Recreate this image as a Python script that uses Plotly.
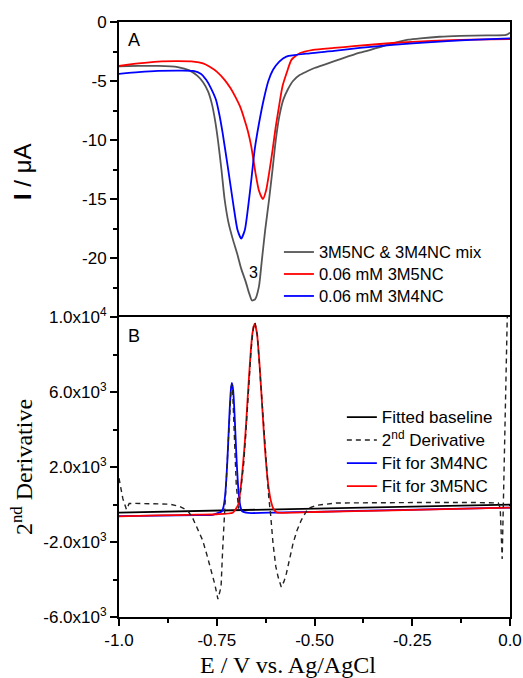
import plotly.graph_objects as go

# ---------------- Panel A data (I / uA vs E / V) ----------------
mix_x = [-1.0, -0.95, -0.90, -0.85, -0.82, -0.80, -0.785, -0.772, -0.762, -0.754, -0.747, -0.738,
         -0.730, -0.720, -0.709, -0.698, -0.6875, -0.676, -0.667, -0.660, -0.652, -0.642, -0.635,
         -0.626, -0.616, -0.607, -0.599, -0.590, -0.580, -0.568, -0.555, -0.538, -0.52, -0.50,
         -0.469, -0.43, -0.384, -0.34, -0.298, -0.26, -0.229, -0.18, -0.127, -0.06, -0.01, 0.0]
mix_y = [-3.75, -3.72, -3.72, -3.82, -4.1, -4.55, -5.1, -5.9, -7.0, -8.4, -10.0, -12.5,
         -15.0, -17.0, -18.4, -19.6, -20.9, -22.0, -23.0, -23.6, -23.5, -22.4, -20.3,
         -17.6, -15.0, -12.4, -10.0, -8.0, -6.6, -5.7, -5.0, -4.5, -4.2, -3.9,
         -3.55, -3.1, -2.6, -2.2, -1.8, -1.5, -1.38, -1.25, -1.18, -1.13, -1.1, -0.9]

m5_x = [-1.0, -0.95, -0.90, -0.85, -0.81, -0.785, -0.769, -0.75, -0.730, -0.715, -0.703, -0.69,
        -0.679, -0.670, -0.662, -0.651, -0.642, -0.632, -0.624, -0.616, -0.607, -0.599, -0.590,
        -0.582, -0.570, -0.559, -0.538, -0.5035, -0.45, -0.40, -0.30, -0.20, -0.10, 0.0]
m5_y = [-3.72, -3.5, -3.35, -3.32, -3.35, -3.5, -3.77, -4.2, -4.9, -5.6, -6.31, -7.2,
        -8.28, -9.3, -10.5, -12.78, -14.3, -15.0, -14.3, -12.78, -10.8, -8.84, -7.0,
        -5.46, -4.2, -3.21, -2.65, -2.36, -2.2, -2.05, -1.78, -1.6, -1.5, -1.45]

m4_x = [-1.0, -0.95, -0.90, -0.85, -0.81, -0.79, -0.777, -0.765, -0.752, -0.743, -0.735, -0.722,
        -0.707, -0.697, -0.6875, -0.678, -0.6695, -0.661, -0.653, -0.642, -0.630, -0.618, -0.606,
        -0.59, -0.572, -0.512, -0.45, -0.384, -0.30, -0.20, -0.10, 0.0]
m4_y = [-4.39, -4.25, -4.15, -4.12, -4.15, -4.4, -4.9, -5.6, -6.59, -7.9, -9.4, -12.22,
        -15.6, -17.6, -18.35, -17.6, -15.6, -13.2, -10.81, -8.6, -6.59, -5.0, -4.05,
        -3.35, -2.93, -2.65, -2.45, -2.2, -1.94, -1.7, -1.52, -1.38]

# ---------------- Panel B data (2nd derivative) ----------------
base_x = [-1.0, 0.0]
base_y = [-430, -5]

deriv_x = [-1.0, -0.990, -0.981, -0.974, -0.96, -0.93, -0.90, -0.870, -0.845, -0.825, -0.812,
           -0.80, -0.786, -0.775, -0.764, -0.755, -0.747, -0.739, -0.735, -0.730, -0.725,
           -0.719, -0.713, -0.710, -0.706, -0.700, -0.694, -0.688, -0.681, -0.675, -0.669,
           -0.662, -0.656, -0.652, -0.646, -0.640, -0.634, -0.628, -0.622, -0.617, -0.612,
           -0.606, -0.599, -0.593, -0.585, -0.578, -0.572, -0.563, -0.555, -0.545, -0.534,
           -0.517, -0.505, -0.495, -0.444, -0.40, -0.30, -0.20, -0.10, -0.05, -0.030,
           -0.025, -0.020, -0.014, -0.009, -0.006]
deriv_y = [1400, 300, -270, 50, 60, 55, 40, 20, -100, -310, -700,
           -1300, -1910, -2700, -3510, -4250, -5050, -4400, -2450, -480, 1800,
           4000, 6300, 6400, 4200, 1000, -220, 1000, 2200, 4000, 6000,
           8300, 9500, 9700, 9000, 7200, 5200, 3200, 1500, 400, -600,
           -2090, -3300, -3870, -4400, -4100, -3690, -2900, -2090, -1400, -843,
           -220, -100, -43, 80, 90, 100, 110, 110, 100, 80,
           -200, -2900, 3000, 9800, 11000]

fit4_x = [-1.0, -0.9, -0.8, -0.76, -0.737, -0.733, -0.729, -0.726, -0.723, -0.720, -0.717,
          -0.714, -0.7114, -0.708, -0.705, -0.702, -0.699, -0.696, -0.693, -0.689, -0.685,
          -0.67, -0.6, -0.5, -0.3, 0.0]
fit4_y = [-620, -590, -560, -550, -360, -150, 400, 1170, 2280, 3650, 5040,
          6090, 6480, 6090, 5040, 3650, 2280, 1170, 400, -150, -360,
          -450, -430, -390, -300, -170]

fit5_x = [-1.0, -0.9, -0.8, -0.75, -0.709, -0.701, -0.695, -0.689, -0.683, -0.677, -0.671,
          -0.665, -0.659, -0.653, -0.647, -0.641, -0.635, -0.629, -0.623, -0.617, -0.611,
          -0.605, -0.597, -0.55, -0.5, -0.3, 0.0]
fit5_y = [-630, -585, -540, -520, -440, -230, 0, 850, 2100, 3650, 5650,
          7600, 9100, 9650, 9100, 7600, 5650, 3650, 2000, 850, 150,
          -230, -420, -430, -400, -310, -170]

# ---------------- Ticks ----------------
ya_vals = [0, -5, -10, -15, -20]
ya_text = ["0", "-5", "-10", "-15", "-20"]
yb_vals = [-6000, -2000, 2000, 6000, 10000]
yb_text = ["-6.0x10<sup>3</sup>", "-2.0x10<sup>3</sup>", "2.0x10<sup>3</sup>",
           "6.0x10<sup>3</sup>", "1.0x10<sup>4</sup>"]
x_vals = [-1.0, -0.75, -0.5, -0.25, 0.0]
x_text = ["-1.0", "-0.75", "-0.50", "-0.25", "0.0"]

SANS = "Liberation Sans, Arial, sans-serif"
SERIF = "Liberation Serif, Times New Roman, serif"


def big(t, size=17):
    return '<span style="font-size:%spx">%s</span>' % (size, t)


fig = go.Figure()

# Panel A
fig.add_trace(go.Scatter(x=mix_x, y=mix_y, mode="lines", name=big("3M5NC & 3M4NC mix", 16.5),
                         line=dict(color="#555555", width=1.8, shape="spline", smoothing=0.6),
                         xaxis="x", yaxis="y", legend="legend"))
fig.add_trace(go.Scatter(x=m5_x, y=m5_y, mode="lines", name=big("0.06 mM 3M5NC", 16.5),
                         line=dict(color="#ff0000", width=1.8, shape="spline", smoothing=0.6),
                         xaxis="x", yaxis="y", legend="legend"))
fig.add_trace(go.Scatter(x=m4_x, y=m4_y, mode="lines", name=big("0.06 mM 3M4NC", 16.5),
                         line=dict(color="#0000ff", width=1.8, shape="spline", smoothing=0.6),
                         xaxis="x", yaxis="y", legend="legend"))

# Panel B
fig.add_trace(go.Scatter(x=base_x, y=base_y, mode="lines", name=big("Fitted baseline"),
                         line=dict(color="black", width=1.8), legendrank=1,
                         xaxis="x2", yaxis="y2", legend="legend2"))
fig.add_trace(go.Scatter(x=fit4_x, y=fit4_y, mode="lines", name=big("Fit for 3M4NC"),
                         line=dict(color="#0000ff", width=1.8, shape="spline", smoothing=0.5),
                         legendrank=3, xaxis="x2", yaxis="y2", legend="legend2"))
fig.add_trace(go.Scatter(x=fit5_x, y=fit5_y, mode="lines", name=big("Fit for 3M5NC"),
                         line=dict(color="#ff0000", width=1.8, shape="spline", smoothing=0.5),
                         legendrank=4, xaxis="x2", yaxis="y2", legend="legend2"))
fig.add_trace(go.Scatter(x=deriv_x, y=deriv_y, mode="lines",
                         name=big("2<sup>nd</sup> Derivative"),
                         line=dict(color="#222222", width=1.4, dash="5px,4px"),
                         legendrank=2, xaxis="x2", yaxis="y2", legend="legend2"))

split = 300 / 595

axis_common = dict(showline=True, linecolor="black", linewidth=2,
                   showgrid=False, zeroline=False, tickcolor="black", automargin=False,
                   tickfont=dict(family=SANS, size=17, color="black"))

fig.update_layout(
    template="none",
    width=523, height=678,
    margin=dict(l=119, r=13, t=22, b=61, autoexpand=False),
    plot_bgcolor="white", paper_bgcolor="white",
    font=dict(family=SANS, size=17, color="black"),
    xaxis=dict(domain=[0, 1], anchor="y", range=[-1, 0], showticklabels=False, ticks="",
               side="top", mirror=False, **axis_common),
    yaxis=dict(domain=[split, 1], anchor="x", range=[-25, 0], tickmode="array",
               tickvals=ya_vals, ticktext=ya_text, ticks="outside", ticklen=7, tickwidth=1.5,
               mirror=True,
               minor=dict(ticks="outside", ticklen=4, tickwidth=1.5, tickmode="linear",
                          tick0=0, dtick=2.5, tickcolor="black"),
               **axis_common),
    xaxis2=dict(domain=[0, 1], anchor="y2", range=[-1, 0], tickmode="array",
                tickvals=x_vals, ticktext=x_text, ticks="outside", ticklen=7, tickwidth=1.5,
                mirror=True,
                minor=dict(ticks="outside", ticklen=4, tickwidth=1.5, tickmode="linear",
                           tick0=0, dtick=0.125, tickcolor="black"),
                **axis_common),
    yaxis2=dict(domain=[0, split], anchor="x2", range=[-6000, 10000], tickmode="array",
                tickvals=yb_vals, ticktext=yb_text, ticks="outside", ticklen=7, tickwidth=1.5,
                mirror=True,
                minor=dict(ticks="outside", ticklen=4, tickwidth=1.5, tickmode="linear",
                           tick0=0, dtick=2000, tickcolor="black"),
                **axis_common),
    legend=dict(x=0.409, y=0.6403, xanchor="left", yanchor="top", bgcolor="rgba(0,0,0,0)",
                borderwidth=0, font=dict(family=SANS, size=14.6, color="black"),
                tracegroupgap=0),
    legend2=dict(x=0.570, y=0.3638, xanchor="left", yanchor="top", bgcolor="rgba(0,0,0,0)",
                 borderwidth=0, font=dict(family=SANS, size=15.4, color="black"),
                 traceorder="normal", tracegroupgap=0),
    showlegend=True,
)

annotations = [
    dict(text="<b>I</b> / μA", x=-0.248, y=(617 - 172) / 595, xref="paper", yref="paper",
         textangle=-90, showarrow=False, xanchor="center", yanchor="middle",
         font=dict(family=SANS, size=24, color="black")),
    dict(text="2<sup>nd</sup> Derivative", x=-0.248, y=(617 - 467) / 595, xref="paper",
         yref="paper", textangle=-90, showarrow=False, xanchor="center", yanchor="middle",
         font=dict(family=SERIF, size=24, color="black")),
    dict(text="E / V vs. Ag/AgCl", x=(288 - 119) / 391, y=(617 - 665) / 595, xref="paper",
         yref="paper", showarrow=False, xanchor="center", yanchor="middle",
         font=dict(family=SERIF, size=24, color="black")),
    dict(text="A", x=0.018, y=(617 - 40) / 595, xref="paper", yref="paper", showarrow=False,
         xanchor="left", yanchor="middle", font=dict(family=SANS, size=18, color="black")),
    dict(text="B", x=0.018, y=(617 - 336) / 595, xref="paper", yref="paper", showarrow=False,
         xanchor="left", yanchor="middle", font=dict(family=SANS, size=18, color="black")),
    dict(text="3", x=-0.657, y=-21.24, xref="x", yref="y", showarrow=False,
         xanchor="center", yanchor="middle", font=dict(family=SANS, size=16, color="black")),
]
fig.update_layout(annotations=annotations)

fig.write_html("out.html", config={"displayModeBar": False},
               post_script="document.body.style.margin='0px';document.body.style.overflow='hidden';")
